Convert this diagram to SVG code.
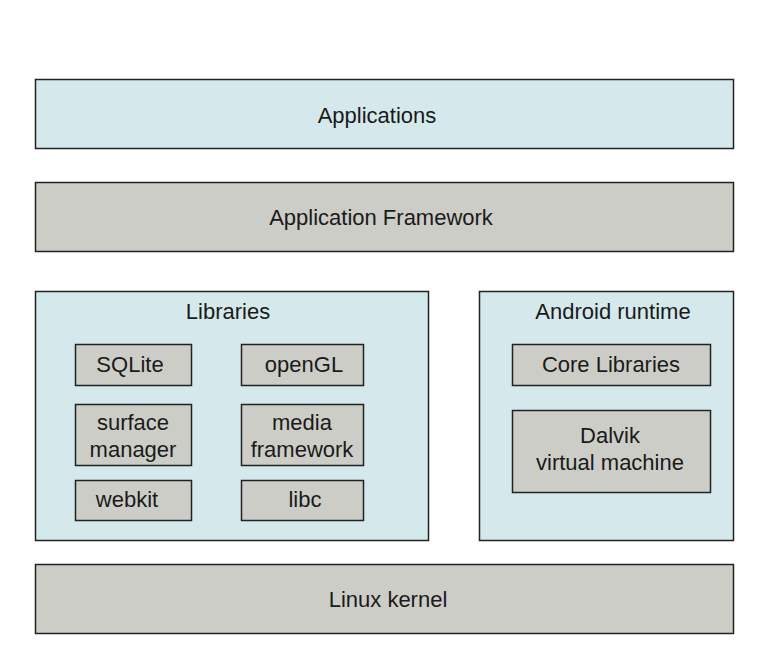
<svg xmlns="http://www.w3.org/2000/svg" width="778" height="666" viewBox="0 0 778 666">
<style>
.blue{fill:#d5e9ec;stroke:#222;stroke-width:1.5}
.gray{fill:#cdcdc8;stroke:#222;stroke-width:1.5}
text{font-family:"Liberation Sans",Arial,sans-serif;font-size:22px;fill:#1a1a1a;text-anchor:middle}
</style>
<rect width="778" height="666" fill="#fff"/>
<g id="applications"><rect class="blue" x="35.5" y="79.5" width="698" height="69"/><text x="377" y="123">Applications</text></g>
<g id="framework"><rect class="gray" x="35.5" y="182.5" width="698" height="69"/><text x="381" y="225">Application Framework</text></g>
<g id="libraries"><rect class="blue" x="35.5" y="291.5" width="393" height="249"/><text x="228" y="319">Libraries</text></g>
<g id="sqlite"><rect class="gray" x="75.5" y="344.5" width="116" height="41"/><text x="130" y="372">SQLite</text></g>
<g id="opengl"><rect class="gray" x="241.5" y="344.5" width="122" height="41"/><text x="304" y="372">openGL</text></g>
<g id="surface"><rect class="gray" x="75.5" y="404.5" width="116" height="61"/><text x="133" y="430">surface</text><text x="133" y="457">manager</text></g>
<g id="media"><rect class="gray" x="241.5" y="404.5" width="122" height="61"/><text x="302" y="430">media</text><text x="302" y="457">framework</text></g>
<g id="webkit"><rect class="gray" x="75.5" y="480.5" width="116" height="40"/><text x="127" y="507">webkit</text></g>
<g id="libc"><rect class="gray" x="241.5" y="480.5" width="122" height="40"/><text x="305" y="507">libc</text></g>
<g id="runtime"><rect class="blue" x="479.5" y="291.5" width="254" height="249"/><text x="613" y="319">Android runtime</text></g>
<g id="core"><rect class="gray" x="512.5" y="344.5" width="198" height="41"/><text x="611" y="372">Core Libraries</text></g>
<g id="dalvik"><rect class="gray" x="512.5" y="410.5" width="198" height="82"/><text x="610" y="443">Dalvik</text><text x="610" y="470">virtual machine</text></g>
<g id="kernel"><rect class="gray" x="35.5" y="564.5" width="698" height="69"/><text x="388" y="607">Linux kernel</text></g>
<g id="connectors"></g>
</svg>
